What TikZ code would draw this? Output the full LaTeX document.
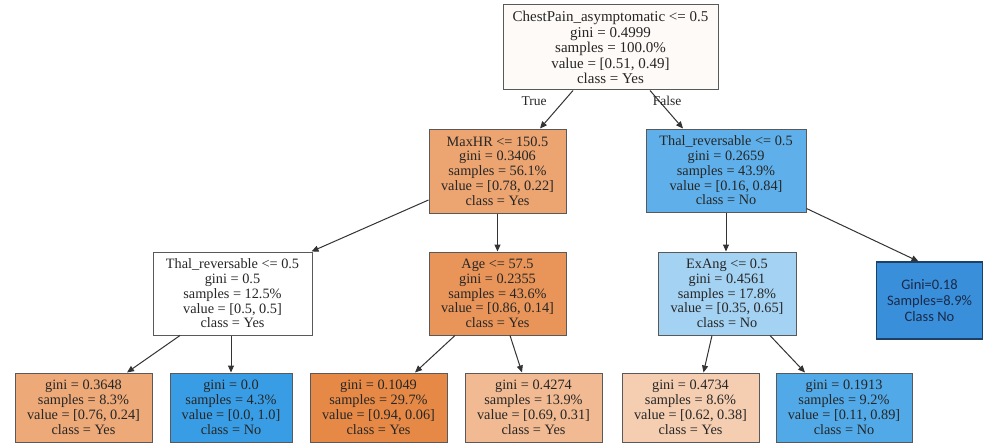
\documentclass[tikz,border=0pt]{standalone}
\usepackage{fontspec}
\setmainfont{Liberation Serif}
\newfontfamily\treeserif{Liberation Serif}
\newfontfamily\boxsans{Carlito}
\usetikzlibrary{arrows.meta}
\definecolor{cRoot}{HTML}{FEFAF7}
\definecolor{cMaxHR}{HTML}{ECA471}
\definecolor{cAge}{HTML}{E99559}
\definecolor{cLa}{HTML}{EDA978}
\definecolor{cLc}{HTML}{E78946}
\definecolor{cLd}{HTML}{F1BA92}
\definecolor{cLe}{HTML}{F5CEB2}
\definecolor{cThalR}{HTML}{5FB0EA}
\definecolor{cExAng}{HTML}{A4D2F3}
\definecolor{cLb}{HTML}{399DE5}
\definecolor{cLf}{HTML}{51A9E8}
\definecolor{cG}{HTML}{3A8FDA}
\definecolor{cGb}{HTML}{1E3F66}
\definecolor{cGt}{HTML}{1A2A4A}
\tikzset{
  tbox/.style={draw=black!65, line width=1pt, align=center, inner sep=0pt,
    font=\treeserif\fontsize{14.3}{14.8}\selectfont, text=black!85},
  inner/.style={tbox, minimum height=83pt},
  leaf/.style={tbox, minimum height=69pt},
  conn/.style={draw=black!80, line width=1pt, -{Triangle[length=7pt,width=6pt]}},
  elabel/.style={font=\treeserif\fontsize{13.5}{14}\selectfont, text=black!85}
}
\begin{document}
\begin{tikzpicture}[x=1pt,y=-1pt]
\useasboundingbox (0,0) rectangle (986,444);
\fill[white] (0,0) rectangle (986,444);
% nodes
\node[tbox, fill=cRoot, minimum width=215pt, minimum height=85pt, font=\treeserif\fontsize{15}{15.6}\selectfont] (root) at (610.5,47.5)
  {ChestPain\_asymptomatic <= 0.5\\gini = 0.4999\\samples = 100.0\%\\value = [0.51, 0.49]\\class = Yes};
\node[inner, fill=cMaxHR, minimum width=137pt, minimum height=84pt] (maxhr) at (497.5,171)
  {MaxHR <= 150.5\\gini = 0.3406\\samples = 56.1\%\\value = [0.78, 0.22]\\class = Yes};
\node[inner, fill=cThalR, minimum width=160pt] (thalr) at (726,170.5)
  {Thal\_reversable <= 0.5\\gini = 0.2659\\samples = 43.9\%\\value = [0.16, 0.84]\\class = No};
\node[inner, fill=white, minimum width=159pt] (thall) at (232.5,293.5)
  {Thal\_reversable <= 0.5\\gini = 0.5\\samples = 12.5\%\\value = [0.5, 0.5]\\class = Yes};
\node[inner, fill=cAge, minimum width=137pt] (age) at (497.5,293.5)
  {Age <= 57.5\\gini = 0.2355\\samples = 43.6\%\\value = [0.86, 0.14]\\class = Yes};
\node[inner, fill=cExAng, minimum width=138pt] (exang) at (727,293.5)
  {ExAng <= 0.5\\gini = 0.4561\\samples = 17.8\%\\value = [0.35, 0.65]\\class = No};
\node[draw=cGb, line width=1.2pt, fill=cG, minimum width=106pt, minimum height=77pt, align=center,
  inner sep=0pt, text=cGt, font=\boxsans\fontsize{14.5}{16}\selectfont] (gbox) at (929.5,300.5)
  {Gini=0.18\\Samples=8.9\%\\Class No};
\node[leaf, fill=cLa, minimum width=137pt] (l1) at (83.5,407.5)
  {gini = 0.3648\\samples = 8.3\%\\value = [0.76, 0.24]\\class = Yes};
\node[leaf, fill=cLb, minimum width=122pt] (l2) at (231,407.5)
  {gini = 0.0\\samples = 4.3\%\\value = [0.0, 1.0]\\class = No};
\node[leaf, fill=cLc, minimum width=137pt] (l3) at (378.5,407.5)
  {gini = 0.1049\\samples = 29.7\%\\value = [0.94, 0.06]\\class = Yes};
\node[leaf, fill=cLd, minimum width=137pt] (l4) at (533.5,407.5)
  {gini = 0.4274\\samples = 13.9\%\\value = [0.69, 0.31]\\class = Yes};
\node[leaf, fill=cLe, minimum width=137pt] (l5) at (690.5,407.5)
  {gini = 0.4734\\samples = 8.6\%\\value = [0.62, 0.38]\\class = Yes};
\node[leaf, fill=cLf, minimum width=136pt] (l6) at (844,407.5)
  {gini = 0.1913\\samples = 9.2\%\\value = [0.11, 0.89]\\class = No};
% connectors
\draw[conn] ([xshift=-37.5pt]root.south) -- ([xshift=42.5pt]maxhr.north);
\draw[conn] ([xshift=39.5pt]root.south) -- ([xshift=-43pt]thalr.north);
\node[elabel] (lt) at (534,101) {True};
\node[elabel] (lf) at (667,101) {False};
\draw[conn] ([yshift=-29pt]maxhr.west) -- ([xshift=-1pt]thall.north east);
\draw[conn] (maxhr.south) -- (age.north);
\draw[conn] ([xshift=-52.5pt]thall.south) -- ([xshift=43.5pt]l1.north);
\draw[conn] ([xshift=-1.5pt]thall.south) -- (l2.north);
\draw[conn] ([xshift=-42.5pt]age.south) -- ([xshift=36.5pt]l3.north);
\draw[conn] ([xshift=12.5pt]age.south) -- ([xshift=-11.5pt]l4.north);
\draw[conn] (thalr.south) -- (thalr.south |- exang.north);
\draw[conn] ([yshift=4pt]thalr.south east) -- ([xshift=-11pt]gbox.north);
\draw[conn] ([xshift=-15pt]exang.south) -- ([xshift=13pt]l5.north);
\draw[conn] ([xshift=43pt]exang.south) -- ([xshift=-39pt]l6.north);
\end{tikzpicture}
\end{document}
